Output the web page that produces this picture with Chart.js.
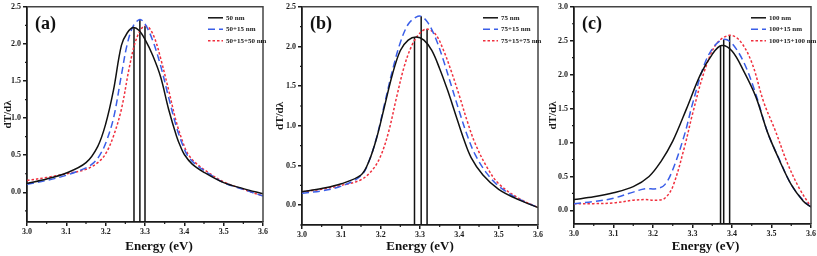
<!DOCTYPE html>
<html>
<head>
<meta charset="utf-8">
<script src="https://cdn.jsdelivr.net/npm/chart.js@4.4.1/dist/chart.umd.min.js"></script>
<style>
  body { margin: 0; background: #fff; width: 817px; height: 256px; position: relative; overflow: hidden; }
  canvas { position: absolute; top: 0; }
</style>
</head>
<body>
<canvas id="chartA" width="272" height="256" style="left:0px"></canvas>
<canvas id="chartB" width="272" height="256" style="left:272px"></canvas>
<canvas id="chartC" width="272" height="256" style="left:545px"></canvas>
<script>
// tick labels
const xTicks = [3.0, 3.1, 3.2, 3.3, 3.4, 3.5, 3.6];
const yTicksAB = [0.0, 0.5, 1.0, 1.5, 2.0, 2.5];
const yTicksC = [0.0, 0.5, 1.0, 1.5, 2.0, 2.5, 3.0];

// panel (a)
const labelsA = ['50 nm', '50+15 nm', '50+15+50 nm'];
const eA50 = [3.00, 3.05, 3.10, 3.15, 3.18, 3.20, 3.22, 3.24, 3.255, 3.27, 3.285, 3.30, 3.32, 3.34, 3.36, 3.38, 3.39, 3.40, 3.42, 3.45, 3.50, 3.55, 3.60];
const vA50 = [0.12, 0.18, 0.26, 0.40, 0.62, 0.92, 1.38, 1.98, 2.15, 2.22, 2.18, 2.06, 1.84, 1.55, 1.12, 0.76, 0.62, 0.51, 0.38, 0.27, 0.13, 0.05, -0.02];
const eA65 = [3.00, 3.05, 3.10, 3.15, 3.17, 3.185, 3.20, 3.22, 3.24, 3.255, 3.27, 3.287, 3.30, 3.32, 3.34, 3.36, 3.38, 3.40, 3.41, 3.43, 3.46, 3.50, 3.55, 3.60];
const vA65 = [0.11, 0.16, 0.23, 0.33, 0.40, 0.50, 0.66, 1.00, 1.58, 2.00, 2.24, 2.33, 2.27, 2.04, 1.70, 1.28, 0.88, 0.58, 0.48, 0.37, 0.26, 0.13, 0.04, -0.05];
const eA115 = [3.00, 3.05, 3.10, 3.15, 3.18, 3.20, 3.22, 3.24, 3.26, 3.275, 3.29, 3.30, 3.31, 3.325, 3.34, 3.36, 3.38, 3.40, 3.41, 3.43, 3.46, 3.50, 3.55, 3.60];
const vA115 = [0.16, 0.20, 0.25, 0.31, 0.40, 0.52, 0.76, 1.12, 1.68, 2.02, 2.20, 2.24, 2.22, 2.07, 1.80, 1.38, 0.94, 0.62, 0.51, 0.39, 0.27, 0.14, 0.04, -0.05];
const peakEA = [3.272, 3.287, 3.300];
const peakVA = [2.22, 2.33, 2.24];

// panel (b)
const labelsB = ['75 nm', '75+15 nm', '75+15+75 nm'];
const eB75 = [3.00, 3.05, 3.10, 3.15, 3.17, 3.19, 3.21, 3.23, 3.25, 3.27, 3.29, 3.31, 3.33, 3.35, 3.37, 3.39, 3.41, 3.43, 3.46, 3.50, 3.55, 3.60];
const vB75 = [0.17, 0.21, 0.27, 0.38, 0.55, 0.85, 1.25, 1.65, 1.95, 2.08, 2.12, 2.08, 1.95, 1.72, 1.45, 1.15, 0.85, 0.60, 0.38, 0.20, 0.07, -0.03];
const eB90 = [3.00, 3.05, 3.10, 3.15, 3.17, 3.19, 3.21, 3.23, 3.25, 3.27, 3.29, 3.303, 3.32, 3.34, 3.36, 3.38, 3.40, 3.42, 3.44, 3.47, 3.50, 3.55, 3.60];
const vB90 = [0.15, 0.18, 0.24, 0.37, 0.55, 0.86, 1.28, 1.70, 2.05, 2.28, 2.37, 2.38, 2.30, 2.10, 1.82, 1.50, 1.18, 0.88, 0.64, 0.40, 0.24, 0.08, -0.03];
const eB165 = [3.00, 3.05, 3.10, 3.15, 3.18, 3.20, 3.22, 3.24, 3.26, 3.28, 3.30, 3.318, 3.34, 3.36, 3.38, 3.40, 3.42, 3.44, 3.47, 3.50, 3.55, 3.60];
const vB165 = [0.17, 0.20, 0.25, 0.32, 0.45, 0.62, 0.92, 1.35, 1.75, 2.02, 2.17, 2.22, 2.15, 1.95, 1.68, 1.38, 1.06, 0.78, 0.48, 0.27, 0.09, -0.03];
const peakEB = [3.286, 3.303, 3.318];
const peakVB = [2.12, 2.38, 2.22];

// panel (c)
const labelsC = ['100 nm', '100+15 nm', '100+15+100 nm'];
const eC100 = [3.00, 3.05, 3.10, 3.15, 3.19, 3.22, 3.25, 3.285, 3.32, 3.35, 3.373, 3.40, 3.43, 3.46, 3.49, 3.52, 3.55, 3.58, 3.60];
const vC100 = [0.16, 0.20, 0.26, 0.35, 0.50, 0.72, 1.02, 1.50, 2.00, 2.30, 2.43, 2.35, 2.05, 1.68, 1.15, 0.74, 0.38, 0.14, 0.05];
const eC115 = [3.00, 3.05, 3.10, 3.15, 3.18, 3.21, 3.23, 3.25, 3.28, 3.30, 3.33, 3.355, 3.379, 3.40, 3.43, 3.46, 3.49, 3.52, 3.55, 3.58, 3.60];
const vC115 = [0.10, 0.13, 0.18, 0.27, 0.32, 0.32, 0.38, 0.60, 1.12, 1.57, 2.15, 2.42, 2.52, 2.46, 2.18, 1.72, 1.15, 0.75, 0.38, 0.15, 0.05];
const eC215 = [3.00, 3.05, 3.10, 3.15, 3.18, 3.21, 3.23, 3.25, 3.28, 3.30, 3.33, 3.36, 3.394, 3.42, 3.45, 3.48, 3.51, 3.54, 3.57, 3.60];
const vC215 = [0.10, 0.10, 0.11, 0.15, 0.16, 0.15, 0.18, 0.35, 0.94, 1.42, 2.05, 2.45, 2.58, 2.50, 2.18, 1.60, 1.17, 0.70, 0.33, 0.05];
const peakEC = [3.371, 3.379, 3.394];
const peakVC = [2.43, 2.52, 2.58];

const serif = '"Liberation Serif", "DejaVu Serif", serif';
const ink = '#1a1a1a';
const styles = [
  { color: '#111111', dash: [] },
  { color: '#3a5ee8', dash: [7, 4] },
  { color: '#f0303e', dash: [2.5, 2] }
];

function zip(xs, ys) {
  return xs.map((x, i) => ({ x: x, y: ys[i] }));
}

// box, minor ticks, legend, panel letter, x title
const decorPlugin = {
  id: 'decor',
  afterDraw(chart, args, opts) {
    const ctx = chart.ctx;
    const a = chart.chartArea;
    const xs = chart.scales.x, ys = chart.scales.y;
    ctx.save();
    ctx.strokeStyle = '#444';
    ctx.lineWidth = 1.5;
    ctx.beginPath();
    ctx.moveTo(a.left, a.top);
    ctx.lineTo(a.right, a.top);
    ctx.lineTo(a.right, a.bottom);
    ctx.stroke();

    // minor ticks
    ctx.strokeStyle = ink;
    ctx.lineWidth = 1.2;
    ctx.beginPath();
    for (let i = 0; i < xTicks.length - 1; i++) {
      const px = xs.getPixelForValue((xTicks[i] + xTicks[i + 1]) / 2);
      ctx.moveTo(px, a.bottom);
      ctx.lineTo(px, a.bottom + 2);
    }
    const yt = opts.yTicks;
    const half = (yt[1] - yt[0]) / 2;
    const minors = [yt[0] - half];
    for (let i = 0; i < yt.length - 1; i++) minors.push(yt[i] + half);
    minors.forEach(v => {
      if (v < ys.min || v > ys.max) return;
      const py = ys.getPixelForValue(v);
      ctx.moveTo(a.left, py);
      ctx.lineTo(a.left - 2, py);
    });
    ctx.stroke();

    // legend
    const x0 = a.right - opts.legendOffset;
    chart.data.datasets.forEach((ds, i) => {
      if (!ds.label) return;
      const y = a.top + 11 + i * 11.5;
      ctx.strokeStyle = ds.borderColor;
      ctx.lineWidth = 1.5;
      ctx.setLineDash(ds.borderDash || []);
      ctx.beginPath();
      ctx.moveTo(x0, y);
      ctx.lineTo(x0 + 15, y);
      ctx.stroke();
      ctx.setLineDash([]);
      ctx.fillStyle = ink;
      ctx.font = 'bold 7px ' + serif;
      ctx.textBaseline = 'middle';
      ctx.textAlign = 'left';
      ctx.fillText(ds.label, x0 + 18, y);
    });

    // panel letter
    ctx.fillStyle = '#111';
    ctx.font = 'bold 18px ' + serif;
    ctx.textBaseline = 'middle';
    ctx.textAlign = 'left';
    ctx.fillText(opts.letter, a.left + 8, a.top + 18);

    // x title
    ctx.font = 'bold 13px ' + serif;
    ctx.textAlign = 'center';
    ctx.fillText('Energy (eV)', (a.left + a.right) / 2 + opts.titleShift, 247);
    ctx.restore();
  }
};

function makePanel(id, cfg) {
  const datasets = cfg.series.map((s, i) => ({
    label: cfg.labels[i],
    data: zip(s[0], s[1]),
    borderColor: styles[i].color,
    borderDash: styles[i].dash,
    borderWidth: 1.5,
    pointRadius: 0,
    tension: 0.35,
    fill: false
  }));
  cfg.peakE.forEach((e, i) => {
    datasets.push({
      label: '',
      data: [{ x: e, y: cfg.yMin }, { x: e, y: cfg.peakV[i] }],
      borderColor: '#111',
      borderWidth: 1.5,
      pointRadius: 0,
      fill: false
    });
  });

  new Chart(document.getElementById(id).getContext('2d'), {
    type: 'line',
    data: { datasets: datasets },
    options: {
      responsive: false,
      animation: false,
      events: [],
      layout: { padding: { top: 5, right: cfg.padRight, left: 0, bottom: 0 } },
      plugins: {
        legend: { display: false },
        tooltip: { enabled: false },
        decor: { letter: cfg.letter, legendOffset: cfg.legendOffset, titleShift: cfg.titleShift, yTicks: cfg.yTicks }
      },
      scales: {
        x: {
          type: 'linear',
          min: 3.0,
          max: 3.6,
          afterBuildTicks: scale => { scale.ticks = xTicks.map(v => ({ value: v })); },
          afterFit: scale => { scale.height = cfg.xHeight; },
          ticks: {
            color: ink,
            padding: 1,
            maxRotation: 0,
            font: { family: serif, weight: 'bold', size: 8 },
            callback: v => v.toFixed(1)
          },
          grid: { drawOnChartArea: false, tickLength: 4, color: ink, lineWidth: 1.5 },
          border: { color: ink, width: 1.8 }
        },
        y: {
          type: 'linear',
          min: cfg.yMin,
          max: cfg.yMax,
          afterBuildTicks: scale => { scale.ticks = cfg.yTicks.map(v => ({ value: v })); },
          afterFit: scale => { scale.width = cfg.yWidth; },
          ticks: {
            color: ink,
            padding: 2,
            font: { family: serif, weight: 'bold', size: 8 },
            callback: v => v.toFixed(1)
          },
          grid: { drawOnChartArea: false, tickLength: 4, color: ink, lineWidth: 1.5 },
          border: { color: ink, width: 1.8 },
          title: {
            display: true,
            text: 'dT/dλ',
            color: ink,
            padding: { top: 2, bottom: 0 },
            font: { family: serif, weight: 'bold', size: 11 }
          }
        }
      }
    },
    plugins: [decorPlugin]
  });
}

makePanel('chartA', {
  letter: '(a)', labels: labelsA,
  series: [[eA50, vA50], [eA65, vA65], [eA115, vA115]],
  peakE: peakEA, peakV: peakVA,
  yMin: -0.4, yMax: 2.5, yTicks: yTicksAB,
  yWidth: 27, xHeight: 34, padRight: 9, legendOffset: 55, titleShift: 14
});
makePanel('chartB', {
  letter: '(b)', labels: labelsB,
  series: [[eB75, vB75], [eB90, vB90], [eB165, vB165]],
  peakE: peakEB, peakV: peakVB,
  yMin: -0.25, yMax: 2.5, yTicks: yTicksAB,
  yWidth: 30, xHeight: 31, padRight: 6, legendOffset: 55, titleShift: 0
});
makePanel('chartC', {
  letter: '(c)', labels: labelsC,
  series: [[eC100, vC100], [eC115, vC115], [eC215, vC215]],
  peakE: peakEC, peakV: peakVC,
  yMin: -0.2, yMax: 3.0, yTicks: yTicksC,
  yWidth: 29, xHeight: 32, padRight: 6, legendOffset: 60, titleShift: 13
});
</script>
</body>
</html>
